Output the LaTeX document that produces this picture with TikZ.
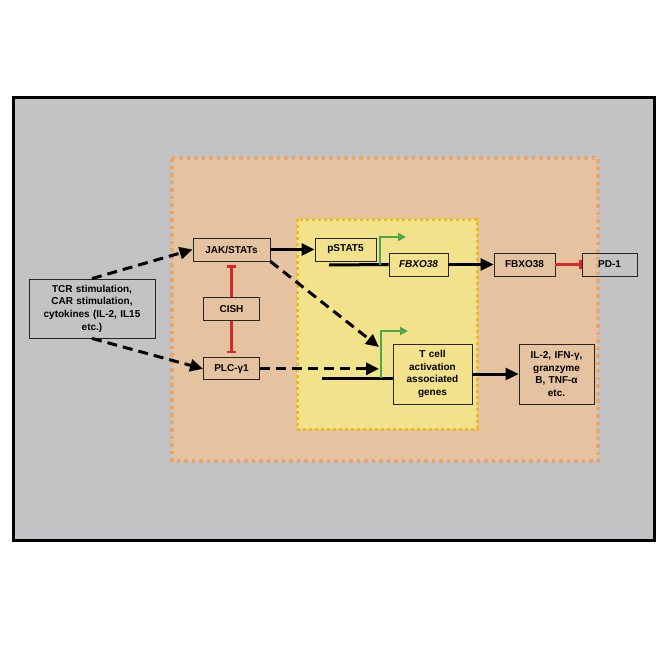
\documentclass[tikz,border=0pt]{standalone}
\usepackage{fontspec}
\setmainfont{Liberation Sans}
\usepackage{tikz}
\usetikzlibrary{arrows.meta, positioning, calc}
\definecolor{cellgray}{RGB}{195, 194, 196}
\definecolor{cytofill}{RGB}{229, 195, 160}
\definecolor{cytodots}{RGB}{230, 166, 112}
\definecolor{nucfill}{RGB}{243, 226, 140}
\definecolor{nucdots}{RGB}{237, 186, 32}
\definecolor{tssgreen}{RGB}{77, 168, 74}
\definecolor{inhibred}{RGB}{212, 42, 42}

\begin{document}
\begin{tikzpicture}[
    x=1pt, y=-1pt,
    node distance=36pt,
    font=\fontsize{10}{12.7}\selectfont\bfseries,
    box/.style={rectangle, draw=black!85, line width=0.9pt, minimum height=23pt, inner sep=2pt, align=center},
    arrow/.style={-{Triangle[length=13pt,width=12pt]}, line width=3pt},
    dasharrow/.style={arrow, dash pattern=on 10pt off 6pt},
    inhibit/.style={-{Bar[width=9pt,line width=2.5pt]}, line width=3pt, color=inhibred},
    gene/.style={line width=3pt},
    promoter/.style={-{Triangle[length=8pt,width=8pt]}, line width=2pt, color=tssgreen}
]
    \useasboundingbox (0,0) rectangle (664,664);
    \draw[line width=3pt, fill=cellgray] (13,97) rectangle (654,540);
    \draw[fill=cytofill, draw=cytodots, line width=3.5pt, dash pattern=on 3.5pt off 4pt] (172,158) rectangle (598,461);
    \draw[fill=nucfill, draw=nucdots, line width=3pt, dash pattern=on 3pt off 3pt] (297,219) rectangle (477,429);

    \node[box, minimum width=126pt, minimum height=59pt, text width=122pt] (tcr) at (92,308.5) {TCR stimulation,\\CAR stimulation,\\cytokines (IL-2, IL15\\etc.)};
    \node[box, minimum width=77pt] (jak) at (231.5,249.5) {JAK/STATs};
    \node[box, minimum width=56pt, below=36pt of jak] (cish) {CISH};
    \node[box, minimum width=56pt, minimum height=22pt, below=36pt of cish] (plc) {PLC-γ1};
    \node[box, minimum width=61pt] (pstat) at (345.5,249.5) {pSTAT5};
    \node[box, minimum width=59pt, font=\fontsize{10}{12.7}\selectfont\bfseries\itshape] (fbxg) at (418.5,264.5) {FBXO38};
    \node[box, minimum width=61pt] (fbxp) at (524.5,264.5) {FBXO38};
    \node[box, minimum width=55pt] (pd1) at (609.5,264.5) {PD-1};
    \node[box, minimum width=79pt, minimum height=60pt, text width=75pt] (tgenes) at (432.5,374) {T cell\\activation\\associated\\genes};
    \node[box, minimum width=75pt, minimum height=60pt, text width=71pt] (cyto) at (556.5,374) {IL-2, IFN-γ,\\granzyme\\B, TNF-α\\etc.};

    \coordinate (fbxstart) at (329,265);
    \coordinate (fbxtss) at (380,265);
    \coordinate (fbxtip) at (406,237);
    \coordinate (tstart) at (322,378);
    \coordinate (ttss) at (381,378);
    \coordinate (ttip) at (408,331);
    \coordinate (tsignal) at (379,347);

    \draw[dasharrow] (tcr.north) -- (jak.west);
    \draw[dasharrow] (tcr.south) -- (plc.west);
    \draw[dasharrow] (jak.south east) -- (tsignal);
    \draw[dasharrow] (plc.east) -- (plc.east -| tsignal);
    \draw[arrow] (jak) -- (pstat);
    \draw[inhibit, shorten >=4pt] (cish.north) -- (jak.south);
    \draw[inhibit, shorten >=4pt] (cish.south) -- (plc.north);

    \draw[gene] (fbxstart) -- (fbxg.west);
    \draw[arrow] (fbxg.east) -- (fbxp.west);
    \draw[promoter] (fbxtss) |- (fbxtip);
    \draw[inhibit] (fbxp.east) -- (pd1.west);

    \draw[gene] (tstart) -- (tstart -| tgenes.west);
    \draw[promoter] (ttss) |- (ttip);
    \draw[arrow] (tgenes.east) -- (cyto.west);
\end{tikzpicture}
\end{document}
